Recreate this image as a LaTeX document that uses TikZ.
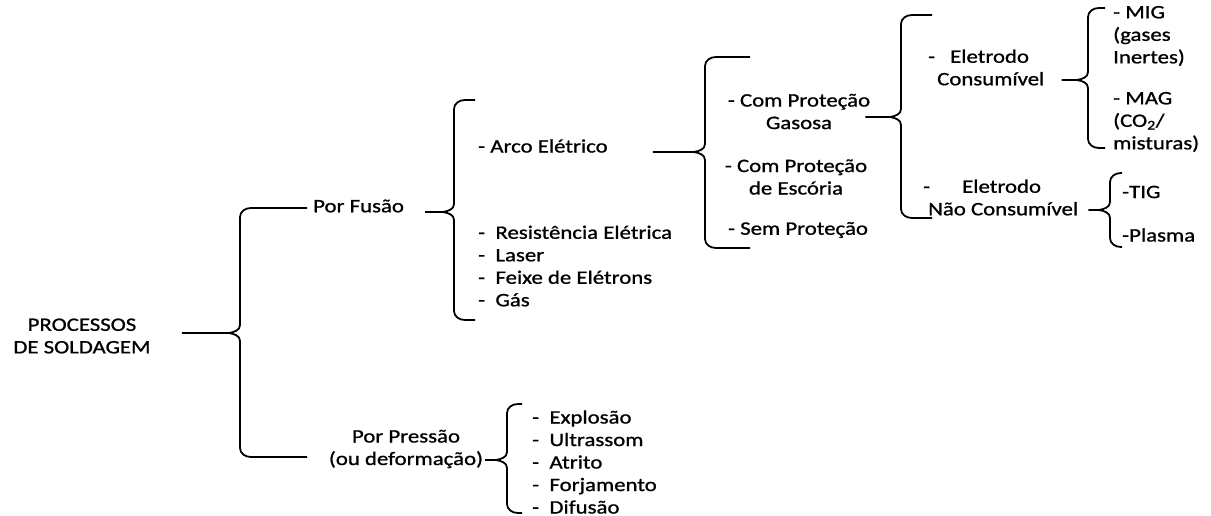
\documentclass[tikz,border=0pt]{standalone}
\usepackage{fontspec}
\setmainfont[FakeStretch=1.2, FakeBold=1]{Carlito}
\usetikzlibrary{calc}

\tikzset{
	item/.style = {inner sep = 0pt, font = \fontsize{19}{22.5}\selectfont},
	chave/.style = {black, line width = 1.8pt}
}

\begin{document}
\begin{tikzpicture}[x = 1pt, y = -1pt]
	%	frame
	\useasboundingbox (0, 0) rectangle (1211, 515);
	
	%	chave: parent, gap, tip y, x of bar, top y, bottom y, end of arms
	\def\chave#1#2#3#4#5#6#7{%
		\draw[chave] let \p1 = (#1.east) in
			(\x1 + #2pt, -#3pt) -- (#4 - 11, #3) to[out = 10, in = -90] (#4, #3 - 8)
			-- (#4, #5 + 9) to[out = 90, in = 180] (#4 + 11, #5) -- (#7, #5)
			(#4 - 11, #3) to[out = -10, in = 90] (#4, #3 + 8)
			-- (#4, #6 - 9) to[out = -90, in = 180] (#4 + 11, #6) -- (#7, #6);}
	
	%	level 0 and 1
	\node[item, align = center] (proc) at (82, 336) {PROCESSOS\\DE SOLDAGEM};
	\node[item, anchor = west] (fusao) at (313, 206) {Por Fusão};
	\node[item, align = center] (pressao) at (406, 449) {Por Pressão\\(ou deformação)};
	
	%	level 2
	\node[item, anchor = west] (arco) at (478, 146) {- Arco Elétrico};
	\node[item, anchor = west, align = left] (outros) at (478, 266)
		{-~~Resistência Elétrica\\-~~Laser\\-~~Feixe de Elétrons\\-~~Gás};
	\node[item, anchor = west, align = left] (solido) at (532, 462)
		{-~~Explosão\\-~~Ultrassom\\-~~Atrito\\-~~Forjamento\\-~~Difusão};
	
	%	level 3
	\node[item, align = center] (gasosa) at (799, 111.5) {- Com Proteção\\Gasosa};
	\node[item, align = center] (escoria) at (796, 177) {- Com Proteção\\de Escória};
	\node[item] (semprot) at (798, 230) {- Sem Proteção};
	
	%	level 4
	\node[item, anchor = west, align = left] (consum) at (928, 67.5)
		{-\hspace{15pt}Eletrodo\\\hspace{9pt}Consumível};
	\node[item, anchor = west, align = left] (naocons) at (923, 197.5)
		{-\hspace{32pt}Eletrodo\\\hspace{5pt}Não Consumível};
	
	%	level 5
	\node[item, anchor = west, align = left] (mig) at (1113, 36) {- MIG\\(gases\\Inertes)};
	\node[item, anchor = west, align = left] (mag) at (1113, 122) {- MAG\\(CO\textsubscript{2}/\\misturas)};
	\node[item, anchor = west] (tig) at (1122, 192) {-TIG};
	\node[item, anchor = west] (plasma) at (1122, 235) {-Plasma};
	
	%	chaves
	\chave{proc}{31}{333}{240}{208}{457}{307}
	\chave{fusao}{21}{212}{454}{100}{320}{475}
	\chave{arco}{45}{152}{705}{57}{248}{750}
	\chave{gasosa}{-5}{117}{901}{15}{218}{932}
	\chave{consum}{17}{80}{1088}{8}{148}{1105}
	\chave{naocons}{10}{210}{1110}{173}{247}{1122}
	\chave{pressao}{2}{460}{507}{404}{513}{522}
\end{tikzpicture}
\end{document}
